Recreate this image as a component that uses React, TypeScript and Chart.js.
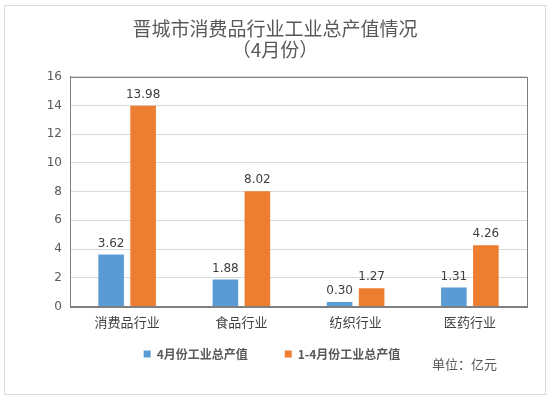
import React, { useEffect, useRef } from "react";
import { Chart, registerables } from "chart.js";

Chart.register(...registerables);

const categories = ["消费品行业", "食品行业", "纺织行业", "医药行业"];
const aprilValues = [3.62, 1.88, 0.3, 1.31];
const janAprValues = [13.98, 8.02, 1.27, 4.26];
const seriesNames = ["4月份工业总产值", "1-4月份工业总产值"];
const titleLines = ["晋城市消费品行业工业总产值情况", "（4月份）"];
const unitText = "单位：亿元";

const FONT = "'DejaVu Sans', 'Noto Sans CJK SC', sans-serif";
const CJK = "'Noto Sans CJK SC', 'DejaVu Sans', sans-serif";

const framePlugin = {
  id: "frame",
  afterDraw(chart: any) {
    const { ctx, chartArea } = chart;
    ctx.save();
    ctx.strokeStyle = "#7f7f7f";
    ctx.lineWidth = 1;
    ctx.strokeRect(
      Math.round(chartArea.left) + 0.5,
      Math.round(chartArea.top) + 0.5,
      Math.round(chartArea.right - chartArea.left),
      Math.round(chartArea.bottom - chartArea.top)
    );
    ctx.restore();
  },
};

const labelPlugin = {
  id: "valueLabels",
  afterDatasetsDraw(chart: any) {
    const { ctx } = chart;
    ctx.save();
    ctx.font = `12px ${FONT}`;
    ctx.fillStyle = "#404040";
    ctx.textAlign = "center";
    ctx.textBaseline = "bottom";
    chart.data.datasets.forEach((ds: any, i: number) => {
      const meta = chart.getDatasetMeta(i);
      meta.data.forEach((bar: any, j: number) => {
        ctx.fillText(Number(ds.data[j]).toFixed(2), bar.x, bar.y - 5);
      });
    });
    ctx.restore();
  },
};

export default function App() {
  const ref = useRef<HTMLCanvasElement | null>(null);
  document.body.style.margin = "0";

  useEffect(() => {
    if (!ref.current) return;
    const chart = new Chart(ref.current, {
      type: "bar",
      data: {
        labels: categories,
        datasets: [
          {
            label: seriesNames[0],
            data: aprilValues,
            backgroundColor: "#5B9BD5",
            categoryPercentage: 0.56,
            barPercentage: 0.8,
          },
          {
            label: seriesNames[1],
            data: janAprValues,
            backgroundColor: "#ED7D31",
            categoryPercentage: 0.56,
            barPercentage: 0.8,
          },
        ],
      },
      options: {
        animation: false,
        responsive: false,
        layout: { padding: { left: 23, right: 23, top: 6, bottom: 28 } },
        plugins: {
          title: {
            display: true,
            text: titleLines,
            color: "#595959",
            font: { family: CJK, size: 19, weight: "normal", lineHeight: 1.1 },
            padding: { top: 12, bottom: 17 },
          },
          legend: {
            position: "bottom",
            labels: {
              boxWidth: 7,
              boxHeight: 7,
              padding: 10,
              color: "#595959",
              font: { family: CJK, size: 12, weight: "bold" },
              generateLabels(chart: any) {
                const items = Chart.defaults.plugins.legend.labels.generateLabels(chart);
                if (items[0]) items[0].text = items[0].text + "\u3000\u3000\u2005";
                if (items[1]) items[1].text = items[1].text + "\u2005\u2005";
                return items;
              },
            },
          },
          tooltip: { enabled: false },
        },
        scales: {
          x: {
            grid: { display: false, drawTicks: false },
            border: { color: "#7f7f7f" },
            ticks: { color: "#404040", font: { family: CJK, size: 13 }, padding: 8 },
          },
          y: {
            min: 0,
            max: 16,
            afterFit(scale: any) {
              scale.width = 47;
            },
            ticks: { stepSize: 2, color: "#595959", font: { family: FONT, size: 12 }, padding: 8 },
            grid: { color: "#d9d9d9", drawTicks: false },
            border: { color: "#7f7f7f" },
          },
        },
      },
      plugins: [framePlugin, labelPlugin],
    });
    return () => chart.destroy();
  }, []);

  return (
    <div style={{ position: "relative", width: 550, height: 398 }}>
      <div
        style={{
          position: "absolute",
          left: 4,
          top: 5,
          width: 540,
          height: 388,
          border: "1px solid #d9d9d9",
          pointerEvents: "none",
        }}
      />
      <canvas ref={ref} width={550} height={398} style={{ position: "absolute", left: 0, top: 0 }} />
      <div
        style={{
          position: "absolute",
          left: 432,
          top: 354,
          fontFamily: CJK,
          fontSize: 13,
          color: "#595959",
          whiteSpace: "nowrap",
        }}
      >
        {unitText}
      </div>
    </div>
  );
}
